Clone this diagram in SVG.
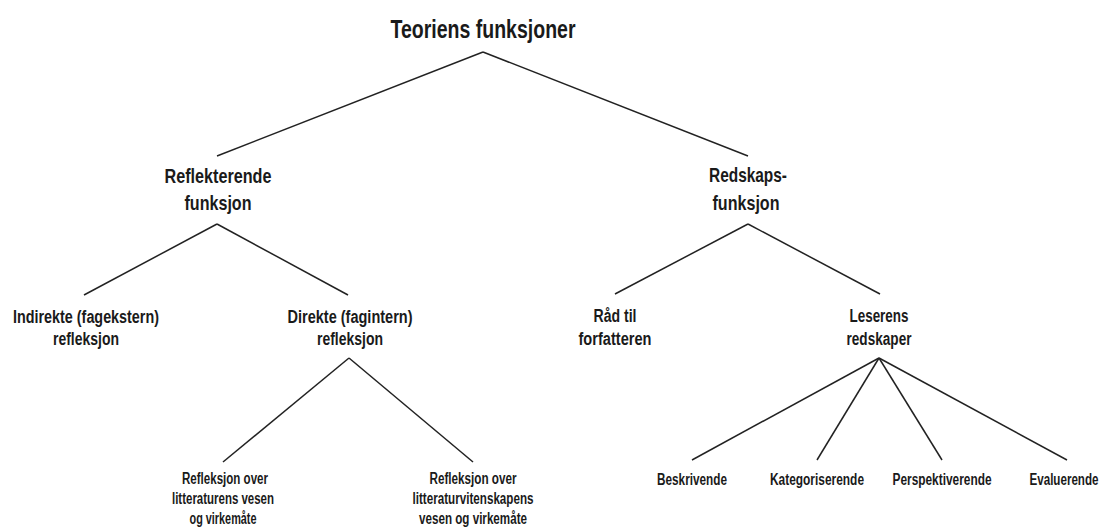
<svg xmlns="http://www.w3.org/2000/svg" width="1103" height="531" viewBox="0 0 1103 531">
<style>
text{font-family:"Liberation Sans",Arial,sans-serif;font-weight:bold;fill:#1a1a1a;text-anchor:middle}
.t0{font-size:26px}
.t1{font-size:21px}
.t2{font-size:18px}
.t3{font-size:16px}
.c line{stroke:#222;stroke-width:1.5;fill:none}
</style>
<rect width="1103" height="531" fill="#fff"/>
<g class="c" id="connectors">
<line x1="483" y1="52" x2="217" y2="156"/>
<line x1="483" y1="52" x2="748" y2="156"/>
<line x1="217" y1="224" x2="84" y2="295"/>
<line x1="217" y1="224" x2="348" y2="295"/>
<line x1="748" y1="224" x2="615" y2="294"/>
<line x1="748" y1="224" x2="880" y2="294"/>
<line x1="349" y1="358" x2="223" y2="462"/>
<line x1="349" y1="358" x2="473" y2="462"/>
<line x1="879" y1="358" x2="692" y2="460"/>
<line x1="879" y1="358" x2="817" y2="460"/>
<line x1="879" y1="358" x2="942" y2="460"/>
<line x1="879" y1="358" x2="1067" y2="460"/>
</g>
<g id="root"><text class="t0" x="483" y="38" textLength="185" lengthAdjust="spacingAndGlyphs">Teoriens funksjoner</text></g>
<g id="reflekterende"><text class="t1" x="218" y="183" textLength="107" lengthAdjust="spacingAndGlyphs">Reflekterende</text><text class="t1" x="218" y="210" textLength="67" lengthAdjust="spacingAndGlyphs">funksjon</text></g>
<g id="redskaps"><text class="t1" x="748" y="182" textLength="78" lengthAdjust="spacingAndGlyphs">Redskaps-</text><text class="t1" x="746" y="210" textLength="67" lengthAdjust="spacingAndGlyphs">funksjon</text></g>
<g id="indirekte"><text class="t2" x="86" y="323" textLength="146" lengthAdjust="spacingAndGlyphs">Indirekte (fagekstern)</text><text class="t2" x="86" y="345" textLength="66" lengthAdjust="spacingAndGlyphs">refleksjon</text></g>
<g id="direkte"><text class="t2" x="350" y="323" textLength="125" lengthAdjust="spacingAndGlyphs">Direkte (fagintern)</text><text class="t2" x="350" y="345" textLength="66" lengthAdjust="spacingAndGlyphs">refleksjon</text></g>
<g id="raad"><text class="t2" x="615" y="322" textLength="43" lengthAdjust="spacingAndGlyphs">Råd til</text><text class="t2" x="615" y="345" textLength="73" lengthAdjust="spacingAndGlyphs">forfatteren</text></g>
<g id="leserens"><text class="t2" x="879" y="322" textLength="59" lengthAdjust="spacingAndGlyphs">Leserens</text><text class="t2" x="879" y="345" textLength="65" lengthAdjust="spacingAndGlyphs">redskaper</text></g>
<g id="refl1"><text class="t3" x="225" y="484" textLength="86" lengthAdjust="spacingAndGlyphs">Refleksjon over</text><text class="t3" x="223" y="504" textLength="102" lengthAdjust="spacingAndGlyphs">litteraturens vesen</text><text class="t3" x="223" y="524" textLength="67" lengthAdjust="spacingAndGlyphs">og virkemåte</text></g>
<g id="refl2"><text class="t3" x="473" y="484" textLength="87" lengthAdjust="spacingAndGlyphs">Refleksjon over</text><text class="t3" x="473" y="504" textLength="121" lengthAdjust="spacingAndGlyphs">litteraturvitenskapens</text><text class="t3" x="473" y="524" textLength="108" lengthAdjust="spacingAndGlyphs">vesen og virkemåte</text></g>
<g id="beskrivende"><text class="t3" x="692" y="485" textLength="70" lengthAdjust="spacingAndGlyphs">Beskrivende</text></g>
<g id="kategoriserende"><text class="t3" x="817" y="485" textLength="94" lengthAdjust="spacingAndGlyphs">Kategoriserende</text></g>
<g id="perspektiverende"><text class="t3" x="942" y="485" textLength="99" lengthAdjust="spacingAndGlyphs">Perspektiverende</text></g>
<g id="evaluerende"><text class="t3" x="1064" y="485" textLength="69" lengthAdjust="spacingAndGlyphs">Evaluerende</text></g>
</svg>
